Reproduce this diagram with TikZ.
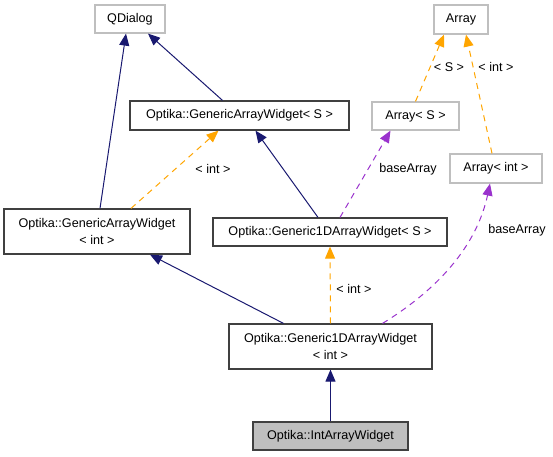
\documentclass[tikz,border=0pt]{standalone}
\usepackage{fontspec}
\setmainfont{Liberation Sans}
\usepackage{xcolor}
\usetikzlibrary{arrows.meta, positioning, shapes}
\definecolor{edgeblue}{RGB}{25,25,112}
\definecolor{tmplorange}{RGB}{255,165,0}
\definecolor{usepurple}{RGB}{154,50,205}
\definecolor{boxgray}{RGB}{191,191,191}
\definecolor{boxdark}{RGB}{64,64,64}
\tikzset{
    cls/.style={draw=boxdark, line width=1.2pt, inner sep=0pt, align=center, font=\fontsize{12.6}{16.5}\selectfont},
    extcls/.style={cls, draw=boxgray},
    inherit/.style={draw=edgeblue, line width=1pt, -{Triangle[length=12pt,width=10pt]}},
    tmpl/.style={draw=tmplorange, line width=1pt, dash pattern=on 6pt off 5pt, -{Triangle[length=12pt,width=10pt,fill=tmplorange]}},
    usage/.style={draw=usepurple, line width=1pt, dash pattern=on 6pt off 5pt, -{Triangle[length=12pt,width=10pt,fill=usepurple]}},
    lbl/.style={font=\fontsize{12.6}{15}\selectfont, inner sep=0pt}
}
\begin{document}
\begin{tikzpicture}[x=1pt, y=-1pt]
    \useasboundingbox (0,0) rectangle (553,456);

    % classes
    \node[extcls, minimum width=70pt, minimum height=28pt] (qdialog) at (130,19) {QDialog};
    \node[extcls, minimum width=54pt, minimum height=29pt] (array) at (461,19.5) {Array};
    \node[cls, minimum width=219pt, minimum height=29pt] (gawS) at (239.5,115.5) {Optika::GenericArrayWidget< S >};
    \node[extcls, minimum width=87pt, minimum height=28pt] (arrayS) at (415.5,116) {Array< S >};
    \node[extcls, minimum width=92pt, minimum height=29pt] (arrayInt) at (496,168.5) {Array< int >};
    \node[cls, minimum width=186pt, minimum height=45pt] (gawInt) at (97,231.5) {Optika::GenericArrayWidget\\< int >};
    \node[cls, minimum width=234pt, minimum height=28pt] (g1dS) at (330,232) {Optika::Generic1DArrayWidget< S >};
    \node[cls, minimum width=203pt, minimum height=45pt] (g1dInt) at (330.5,346.5) {Optika::Generic1DArrayWidget\\< int >};
    \node[cls, fill=boxgray, minimum width=155pt, minimum height=28pt] (intAW) at (330.5,436) {Optika::IntArrayWidget};

    % inheritance
    \draw[inherit] ([xshift=3pt]gawInt.north) -- ([xshift=-4pt]qdialog.south);
    \draw[inherit] ([xshift=-17pt]gawS.north) -- ([xshift=18pt]qdialog.south);
    \draw[inherit] ([xshift=-12pt]g1dS.north) -- ([xshift=16pt]gawS.south);
    \draw[inherit] ([xshift=-47pt]g1dInt.north) -- ([xshift=53pt]gawInt.south);
    \draw[inherit] (intAW.north) -- (g1dInt.south);

    % template instances
    \draw[tmpl] ([xshift=34pt]gawInt.north) -- ([xshift=-21pt]gawS.south);
    \draw[tmpl] (g1dInt.north) -- (g1dS.south);
    \draw[tmpl] (arrayS.north) -- ([xshift=-17pt]array.south);
    \draw[tmpl] ([xshift=-4pt]arrayInt.north) -- ([xshift=5pt]array.south);

    % members
    \draw[usage] ([xshift=10pt]g1dS.north) -- ([xshift=-25pt]arrayS.south);
    \draw[usage] ([xshift=52pt]g1dInt.north) .. controls (445,285) and (478,240) .. ([xshift=-6pt]arrayInt.south);

    % labels
    \node[lbl] (lIntGaw) at (213,169) {< int >};
    \node[lbl] (lIntG1d) at (354,289) {< int >};
    \node[lbl] (lS) at (449,67) {< S >};
    \node[lbl] (lIntArr) at (496,67) {< int >};
    \node[lbl] (lBaseS) at (408,169) {baseArray};
    \node[lbl] (lBaseInt) at (517,230) {baseArray};
\end{tikzpicture}
\end{document}
